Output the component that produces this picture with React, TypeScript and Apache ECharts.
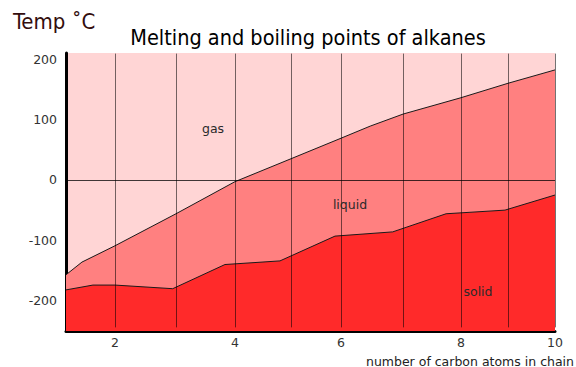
import React, { useEffect, useRef } from "react";
import * as echarts from "echarts";

// vertical guide lines (positions along the drawn carbon-count scale)
const gridLinesX = [2, 3.11, 4.18, 5.2, 6.11, 7.24, 8.29, 9.15, 10];
const xTickValues = [2, 4.18, 6.11, 8.29, 10];
const xTickLabels = ["2", "4", "6", "8", "10"];
const yTickValues = [-200, -100, 0, 100, 200];

// boiling point boundary (gas / liquid)
const boilX = [1.11, 1.4, 2, 3.11, 4.18, 5.2, 6.11, 6.64, 7.24, 8.29, 9.15, 10];
const boilY = [-157, -136, -109, -56, -3, 35, 69, 89, 109, 136, 160, 182];

// melting point boundary (liquid / solid)
const meltX = [1.11, 1.6, 2, 3.05, 4.0, 5.0, 6.0, 7.05, 8.02, 9.09, 10];
const meltY = [-182, -174, -174, -180, -140, -134, -93, -86, -56, -50, -25];

const FONT = "'DejaVu Sans', sans-serif";
const TITLE_FONT = "'DejaVu Sans Condensed', 'DejaVu Sans', sans-serif";

export default function App() {
  const ref = useRef<HTMLDivElement>(null);
  useEffect(() => {
    if (!ref.current) return;
    const chart = echarts.init(ref.current, null, { renderer: "svg" });
    const lineCol = "rgba(0,0,0,0.55)";
    chart.setOption({
      animation: false,
      backgroundColor: "#ffffff",
      grid: {
        left: 66,
        right: 21,
        top: 53,
        bottom: 36,
        show: true,
        backgroundColor: "#ffd5d5",
        borderWidth: 0,
      },
      xAxis: {
        type: "value",
        min: 1.11,
        max: 10,
        splitLine: { show: false },
        axisTick: { show: false },
        axisLine: { show: true, onZero: false, lineStyle: { color: "#000", width: 3 } },
        axisLabel: {
          customValues: xTickValues,
          formatter: (v: number) => {
            const i = xTickValues.findIndex((t) => Math.abs(t - v) < 1e-6);
            return i >= 0 ? xTickLabels[i] : "";
          },
          color: "#333",
          fontFamily: FONT,
          fontSize: 12.5,
          margin: 5,
        },
      },
      yAxis: {
        type: "value",
        min: -250,
        max: 210,
        interval: 50,
        splitLine: { show: false },
        axisTick: { show: false },
        axisLine: { show: true, lineStyle: { color: "#000", width: 3 } },
        axisLabel: {
          formatter: (v: number) => (yTickValues.includes(v) ? String(v) : ""),
          color: "#333",
          fontFamily: FONT,
          fontSize: 12.5,
          margin: 9,
        },
      },
      series: [
        {
          name: "boiling",
          type: "line",
          data: boilX.map((x, i) => [x, boilY[i]]),
          symbol: "none",
          lineStyle: { color: "#1a1a1a", width: 1 },
          areaStyle: { color: "#ff8080", opacity: 1, origin: "start" },
          z: 2,
        },
        {
          name: "melting",
          type: "line",
          data: meltX.map((x, i) => [x, meltY[i]]),
          symbol: "none",
          lineStyle: { color: "#1a1a1a", width: 1 },
          areaStyle: { color: "#ff2a2a", opacity: 1, origin: "start" },
          z: 3,
        },
        {
          name: "guides",
          type: "line",
          data: gridLinesX.map((x) => [x, 0]),
          symbol: "none",
          lineStyle: { opacity: 0 },
          z: 10,
          markLine: {
            silent: true,
            symbol: ["none", "none"],
            label: { show: false },
            lineStyle: { color: lineCol, width: 1, type: "solid" },
            data: [
              ...gridLinesX.map((x) => [
                { coord: [x, -244], lineStyle: { color: lineCol } },
                { coord: [x, 209] },
              ]),
              [{ coord: [1.11, 0], lineStyle: { color: "rgba(0,0,0,0.75)" } }, { coord: [10, 0] }],
            ],
          },
        },
      ],
      graphic: [
        {
          type: "text",
          x: 308,
          y: 37,
          z: 100,
          style: {
            text: "Melting and boiling points of alkanes",
            fill: "#000",
            font: `21.5px ${TITLE_FONT}`,
            textAlign: "center",
            textVerticalAlign: "middle",
          },
        },
        {
          type: "text",
          x: 13,
          y: 21,
          z: 100,
          style: {
            text: "Temp ˚C",
            fill: "#330d0d",
            font: `22px ${TITLE_FONT}`,
            textAlign: "left",
            textVerticalAlign: "middle",
          },
        },
        {
          type: "text",
          x: 213,
          y: 128,
          z: 100,
          style: { text: "gas", fill: "#2a2a2a", font: `12.5px ${FONT}`, textAlign: "center", textVerticalAlign: "middle" },
        },
        {
          type: "text",
          x: 350,
          y: 204,
          z: 100,
          style: { text: "liquid", fill: "#2a2a2a", font: `12.5px ${FONT}`, textAlign: "center", textVerticalAlign: "middle" },
        },
        {
          type: "text",
          x: 478,
          y: 291,
          z: 100,
          style: { text: "solid", fill: "#2a2a2a", font: `12.5px ${FONT}`, textAlign: "center", textVerticalAlign: "middle" },
        },
        {
          type: "text",
          x: 574,
          y: 361,
          z: 100,
          style: {
            text: "number of carbon atoms in chain",
            fill: "#222",
            font: `12.5px ${FONT}`,
            textAlign: "right",
            textVerticalAlign: "middle",
          },
        },
      ],
    });
    return () => chart.dispose();
  }, []);
  return (
    <div
      ref={ref}
      style={{ position: "fixed", left: 0, top: 0, width: 576, height: 367 }}
    />
  );
}
